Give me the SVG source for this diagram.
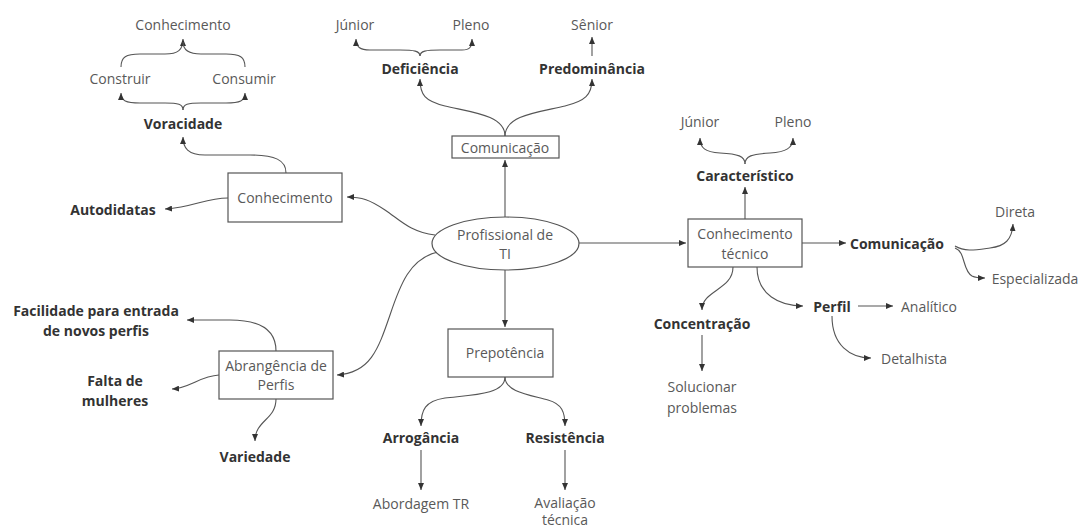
<svg xmlns="http://www.w3.org/2000/svg" width="1082" height="529" viewBox="0 0 1082 529">
<style>
text{font-family:"Open Sans","Noto Sans","Liberation Sans",sans-serif;font-size:14px;fill:#595959;text-anchor:middle;dominant-baseline:central}
text.b{font-weight:bold;fill:#333}
.n{fill:#fff;stroke:#555;stroke-width:1.2}
#connectors path{fill:none;stroke:#555;stroke-width:1.1}
.a{marker-end:url(#ah)}
</style>
<defs>
<marker id="ah" markerUnits="userSpaceOnUse" markerWidth="8" markerHeight="6" refX="7" refY="3" orient="auto">
<path d="M0,0 L7,3 L0,6 Z" fill="#333"/>
</marker>
</defs>
<rect width="1082" height="529" fill="#fff"/>
<g id="connectors">
<path class="a" d="M505,217 L505,160"/>
<path class="a" d="M505,270 L505,327"/>
<path class="a" d="M579,243 L686,243"/>
<path class="a" d="M435,235 C410,232 400,220 385,210 C370,200 362,197 347,197"/>
<path class="a" d="M438,252 C410,258 400,285 390,315 C378,350 370,373 337,375"/>
<path class="a" d="M505,136 C505,115 470,112 445,106 C425,101 420,95 420,79"/>
<path class="a" d="M505,136 C505,115 540,112 565,106 C585,101 592,95 592,79"/>
<path class="a" d="M420,56 C420,51 414,50 400,50 L370,50 C360,50 356,47 356,39"/>
<path class="a" d="M420,56 C420,51 426,50 440,50 L462,50 C470,50 472,47 472,39"/>
<path class="a" d="M592,56 L592,37"/>
<path class="a" d="M286,173 C286,160 275,155 250,155 L205,155 C188,155 183,148 183,137"/>
<path class="a" d="M228,198 C205,198 195,207 165,209"/>
<path class="a" d="M183,110 C183,104 178,103 165,103 L140,103 C126,103 121,101 121,93"/>
<path class="a" d="M183,110 C183,104 188,103 201,103 L226,103 C240,103 245,101 245,93"/>
<path class="a" d="M121,67 C121,57 126,54 140,54 L165,54 C178,54 183,50 183,39"/>
<path d="M245,67 C245,57 240,54 226,54 L201,54 C188,54 183,50 183,42"/>
<path class="a" d="M276,351 C276,330 260,320 230,320 L187,320"/>
<path class="a" d="M219,375 C200,376 190,388 172,389"/>
<path class="a" d="M276,399 C276,420 255,420 255,441"/>
<path class="a" d="M505,377 C505,395 470,395 445,398 C425,401 421,410 421,426"/>
<path class="a" d="M505,377 C505,392 530,395 548,400 C562,404 565,412 565,426"/>
<path class="a" d="M421,450 L421,490"/>
<path class="a" d="M565,450 L565,490"/>
<path class="a" d="M745,219 L745,187"/>
<path class="a" d="M745,164 C745,156 738,154 720,153 C705,152 700,148 700,138"/>
<path class="a" d="M745,164 C745,156 752,154 770,153 C786,152 793,148 793,138"/>
<path class="a" d="M802,243 L846,243"/>
<path class="a" d="M955,246 C965,252 975,250 990,248 C1005,246 1012,240 1013,224"/>
<path class="a" d="M955,248 C966,252 962,270 972,276 C976,278 980,278 985,278"/>
<path class="a" d="M733,267 C733,290 702,290 702,310"/>
<path class="a" d="M757,267 C757,295 780,306 803,306"/>
<path class="a" d="M858,306 L893,306"/>
<path class="a" d="M832,316 C832,345 850,358 871,358"/>
<path class="a" d="M702,335 L702,371"/>
</g>
<g id="profissional"><ellipse class="n" cx="505.5" cy="243.5" rx="73.5" ry="26.5"/><text x="505" y="234">Profissional de</text><text x="505" y="253">TI</text></g>
<g id="comunicacao"><rect class="n" x="452" y="136" width="107" height="22"/><text x="505" y="147">Comunicação</text></g>
<g id="deficiencia"><text class="b" x="420" y="68">Deficiência</text></g>
<g id="predominancia"><text class="b" x="592" y="68">Predominância</text></g>
<g id="junior1"><text x="355" y="24">Júnior</text></g>
<g id="pleno1"><text x="471" y="24">Pleno</text></g>
<g id="senior"><text x="592" y="24">Sênior</text></g>
<g id="conhecimento"><rect class="n" x="228" y="173" width="114" height="49"/><text x="285" y="197">Conhecimento</text></g>
<g id="autodidatas"><text class="b" x="113" y="209">Autodidatas</text></g>
<g id="voracidade"><text class="b" x="183" y="123">Voracidade</text></g>
<g id="construir"><text x="120" y="78">Construir</text></g>
<g id="consumir"><text x="244" y="78">Consumir</text></g>
<g id="conhecimento2"><text x="183" y="24">Conhecimento</text></g>
<g id="abrangencia"><rect class="n" x="219" y="351" width="114" height="48"/><text x="276" y="365">Abrangência de</text><text x="276" y="384">Perfis</text></g>
<g id="facilidade"><text class="b" x="96" y="310">Facilidade para entrada</text><text class="b" x="96" y="330">de novos perfis</text></g>
<g id="falta"><text class="b" x="115" y="380">Falta de</text><text class="b" x="115" y="400">mulheres</text></g>
<g id="variedade"><text class="b" x="255" y="456">Variedade</text></g>
<g id="prepotencia"><rect class="n" x="448" y="329" width="105" height="48"/><text x="505" y="352">Prepotência</text></g>
<g id="arrogancia"><text class="b" x="421" y="437">Arrogância</text></g>
<g id="resistencia"><text class="b" x="565" y="437">Resistência</text></g>
<g id="abordagem"><text x="421" y="503">Abordagem TR</text></g>
<g id="avaliacao"><text x="565" y="502">Avaliação</text><text x="565" y="519">técnica</text></g>
<g id="conhecimento-tecnico"><rect class="n" x="688" y="219" width="114" height="48"/><text x="745" y="233">Conhecimento</text><text x="745" y="253">técnico</text></g>
<g id="caracteristico"><text class="b" x="745" y="175">Característico</text></g>
<g id="junior2"><text x="700" y="121">Júnior</text></g>
<g id="pleno2"><text x="793" y="121">Pleno</text></g>
<g id="comunicacao2"><text class="b" x="850" y="243" style="text-anchor:start">Comunicação</text></g>
<g id="direta"><text x="1015" y="211">Direta</text></g>
<g id="especializada"><text x="1035" y="278">Especializada</text></g>
<g id="concentracao"><text class="b" x="702" y="323">Concentração</text></g>
<g id="solucionar"><text x="702" y="386">Solucionar</text><text x="702" y="407">problemas</text></g>
<g id="perfil"><text class="b" x="832" y="306">Perfil</text></g>
<g id="analitico"><text x="929" y="306">Analítico</text></g>
<g id="detalhista"><text x="914" y="358">Detalhista</text></g>
</svg>
